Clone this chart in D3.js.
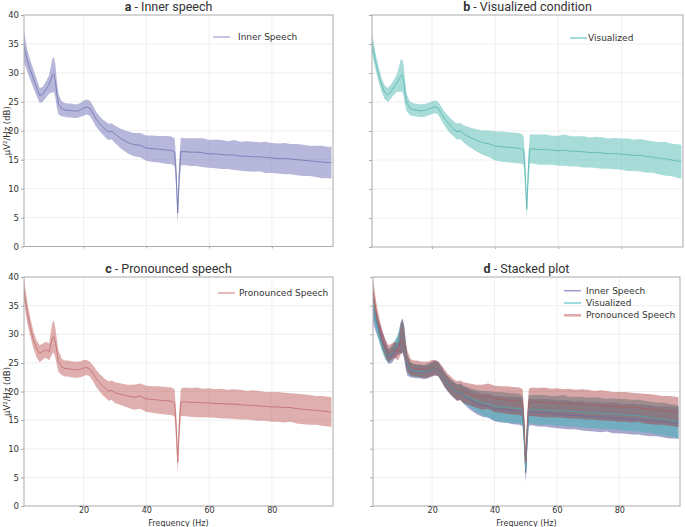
<!DOCTYPE html>
<html>
<head>
<meta charset="utf-8">
<script src="https://cdn.jsdelivr.net/npm/d3@7"></script>
<style>
  body { margin: 0; background: #fff; }
  svg { display: block; }
  text { font-family: "DejaVu Sans", sans-serif; fill: #333; }
  .title { font-family: Roboto, sans-serif; font-size: 12.5px; fill: #333; }
</style>
</head>
<body>
<svg id="chart" width="685" height="527"></svg>
<script>
// frequency bins (Hz)
const freqs = [1, 2, 3, 4, 5, 6, 7, 8, 9, 10, 10.5,
  11, 11.5, 12, 13, 14, 15, 16, 17, 18, 19, 20,
  21, 22, 23, 24, 25, 26, 27, 28, 29, 30,
  32, 34, 36, 38, 40, 42, 44, 46, 48,
  49, 49.5, 50, 50.5, 51,
  52, 54, 56, 58, 60, 62, 64, 66, 68, 70, 72, 74, 76, 78, 80, 82, 84, 86, 88, 90, 92, 94, 96, 98,
  99]

const innerMean = [34.6, 32.2, 30.5, 29.0, 27.5, 26.1, 26.3, 27.1, 28.0, 29.5, 29.8,
  28.6, 26.2, 24.6, 23.8, 23.6, 23.5, 23.5, 23.4, 23.4, 23.6, 23.9,
  24.1, 23.9, 23.0, 22.0, 21.3, 20.7, 20.2, 19.8, 19.9, 19.4,
  18.6, 18.0, 17.6, 17.5, 17.0, 16.9, 16.8, 16.7, 16.6,
  16.3, 12.5, 5.8, 12.5, 16.4,
  16.4, 16.3, 16.3, 16.2, 16.0, 16.0, 15.9, 15.8, 15.8, 15.6, 15.6, 15.5, 15.5, 15.4, 15.3, 15.2, 15.2, 15.1, 15.0, 14.9, 14.8, 14.7, 14.6, 14.5,
  14.5]
const innerSd = [2.7, 1.9, 1.7, 1.6, 1.5, 1.3, 1.3, 1.4, 1.6, 2.9, 3.0,
  2.9, 2.3, 1.8, 1.3, 1.2, 1.2, 1.2, 1.2, 1.2, 1.2, 1.3,
  1.3, 1.3, 1.3, 1.3, 1.3, 1.3, 1.4, 1.4, 1.4, 1.5,
  1.7, 1.9, 2.0, 2.1, 2.2, 2.3, 2.3, 2.4, 2.4,
  2.4, 2.6, 1.8, 2.6, 2.4,
  2.3, 2.4, 2.4, 2.5, 2.4, 2.5, 2.5, 2.4, 2.6, 2.5, 2.6, 2.6, 2.5, 2.7, 2.6, 2.6, 2.7, 2.6, 2.7, 2.7, 2.6, 2.7, 2.8, 2.7,
  2.8]

const visMean = [35.2, 32.3, 30.0, 28.0, 26.7, 26.2, 26.8, 27.6, 28.4, 29.4, 29.7,
  28.8, 26.4, 24.9, 23.9, 23.7, 23.6, 23.5, 23.5, 23.6, 23.8, 24.0,
  24.2, 23.9, 23.0, 22.1, 21.4, 20.8, 20.3, 19.9, 20.0, 19.5,
  18.9, 18.4, 18.0, 17.8, 17.4, 17.3, 17.2, 17.1, 17.0,
  16.7, 13.0, 6.5, 13.0, 16.9,
  16.9, 16.8, 16.8, 16.7, 16.6, 16.7, 16.5, 16.5, 16.4, 16.3, 16.3, 16.2, 16.1, 16.1, 16.0, 15.9, 15.8, 15.8, 15.6, 15.5, 15.3, 15.2, 15.0, 14.8,
  14.7]
const visSd = [1.7, 1.4, 1.3, 1.2, 1.2, 1.2, 1.2, 1.3, 1.6, 2.7, 2.8,
  2.7, 2.1, 1.5, 1.2, 1.1, 1.1, 1.1, 1.1, 1.1, 1.1, 1.1,
  1.1, 1.1, 1.2, 1.2, 1.3, 1.3, 1.3, 1.4, 1.4, 1.5,
  1.7, 1.9, 2.1, 2.3, 2.5, 2.6, 2.6, 2.6, 2.6,
  2.5, 2.6, 1.6, 2.6, 2.5,
  2.5, 2.6, 2.6, 2.5, 2.6, 2.7, 2.6, 2.6, 2.7, 2.6, 2.7, 2.7, 2.6, 2.7, 2.7, 2.8, 2.7, 2.8, 2.8, 2.7, 2.8, 2.9, 2.8, 2.9,
  2.9]

const pronMean = [37.8, 33.9, 31.3, 29.0, 27.5, 26.6, 27.0, 27.3, 26.9, 29.3, 29.6,
  28.6, 26.8, 25.3, 24.3, 24.0, 24.0, 23.9, 23.8, 23.8, 23.9, 24.1,
  24.2, 23.9, 23.2, 22.3, 21.6, 21.0, 20.5, 20.1, 20.2, 19.8,
  19.5, 19.2, 19.0, 19.2, 18.7, 18.6, 18.5, 18.4, 18.3,
  18.0, 14.0, 7.7, 14.0, 18.1,
  18.2, 18.1, 18.1, 18.0, 18.0, 17.9, 17.9, 17.8, 17.8, 17.7, 17.6, 17.6, 17.5, 17.4, 17.3, 17.3, 17.2, 17.2, 17.0, 16.9, 16.8, 16.7, 16.6, 16.5,
  16.4]
const pronSd = [2.0, 1.8, 1.6, 1.5, 1.5, 1.5, 1.4, 1.4, 1.5, 2.7, 2.8,
  2.6, 2.2, 1.9, 1.4, 1.4, 1.4, 1.4, 1.4, 1.4, 1.4, 1.4,
  1.3, 1.3, 1.4, 1.5, 1.5, 1.6, 1.6, 1.7, 1.7, 1.8,
  1.9, 2.0, 2.2, 2.2, 2.3, 2.3, 2.4, 2.4, 2.4,
  2.4, 2.6, 1.9, 2.6, 2.4,
  2.5, 2.5, 2.6, 2.5, 2.55, 2.5, 2.6, 2.5, 2.6, 2.6, 2.5, 2.6, 2.6, 2.5, 2.6, 2.6, 2.6, 2.5, 2.6, 2.6, 2.6, 2.5, 2.6, 2.6,
  2.6]

const yTicks = [0, 5, 10, 15, 20, 25, 30, 35, 40]
const xTicks = [20, 40, 60, 80]

const inner = { name: 'Inner Speech', mean: innerMean, sd: innerSd }
const vis = { name: 'Visualized', mean: visMean, sd: visSd }
const pron = { name: 'Pronounced Speech', mean: pronMean, sd: pronSd }

const panels = [
  { letter: 'a', title: ' - Inner speech', x0: 24, x1: 333, y0: 15, y1: 246.5, yLab: true, xLab: false,
    series: [{ s: inner, fill: '#7070b8', op: 0.5, line: '#7272b0', leg: '#b4b4dc' }],
    legend: { x: 213, y: 37, gap: 8 } },
  { letter: 'b', title: ' - Visualized condition', x0: 372, x1: 683, y0: 15, y1: 247, yLab: false, xLab: false,
    series: [{ s: vis, fill: '#4fbab4', op: 0.5, line: '#55b5ae', leg: '#86d2cf' }],
    legend: { x: 570, y: 38, gap: 1 } },
  { letter: 'c', title: ' - Pronounced speech', x0: 24, x1: 333, y0: 277, y1: 506, yLab: true, xLab: true,
    series: [{ s: pron, fill: '#c06060', op: 0.5, line: '#c26a6a', leg: '#e0a4a4' }],
    legend: { x: 218, y: 293, gap: 4 } },
  { letter: 'd', title: ' - Stacked plot', x0: 373, x1: 680, y0: 277, y1: 506, yLab: false, xLab: true,
    series: [
      { s: inner, fill: '#6c6cae', op: 0.6, line: '#6a6aa6', leg: '#9c9cd0' },
      { s: vis, fill: '#4fb0b8', op: 0.6, line: '#4aa8aa', leg: '#80d0d0' },
      { s: pron, fill: '#a83a3a', op: 0.45, line: '#a86060', leg: '#e0a8a8' }
    ],
    legend: { x: 564, y: 290.7, gap: 5, step: 12.3 } }
]

const svg = d3.select('#chart')

panels.forEach((p, pi) => {
  const x = d3.scaleLinear().domain([1, 99.5]).range([p.x0, p.x1])
  const y = d3.scaleLinear().domain([0, 40]).range([p.y1, p.y0])
  const g = svg.append('g')

  g.append('clipPath').attr('id', 'clip' + pi)
    .append('rect')
    .attr('x', p.x0).attr('y', p.y0)
    .attr('width', p.x1 - p.x0).attr('height', p.y1 - p.y0)

  // grid
  g.append('g').selectAll('line').data(yTicks.slice(1, -1)).join('line')
    .attr('x1', p.x0).attr('x2', p.x1)
    .attr('y1', d => y(d)).attr('y2', d => y(d))
    .attr('stroke', '#ebebeb').attr('stroke-width', 0.8)
  g.append('g').selectAll('line').data(xTicks).join('line')
    .attr('y1', p.y0).attr('y2', p.y1)
    .attr('x1', d => x(d)).attr('x2', d => x(d))
    .attr('stroke', '#ebebeb').attr('stroke-width', 0.8)

  const plot = g.append('g').attr('clip-path', `url(#clip${pi})`)

  p.series.forEach(ser => {
    const area = d3.area()
      .x((d, i) => x(freqs[i]))
      .y0((d, i) => y(ser.s.mean[i] - ser.s.sd[i]))
      .y1((d, i) => y(ser.s.mean[i] + ser.s.sd[i]))
    plot.append('path')
      .attr('d', area(freqs))
      .attr('fill', ser.fill)
      .attr('fill-opacity', ser.op)
  })
  p.series.forEach(ser => {
    const line = d3.line()
      .x((d, i) => x(freqs[i]))
      .y((d, i) => y(ser.s.mean[i]))
    plot.append('path')
      .attr('d', line(freqs))
      .attr('fill', 'none')
      .attr('stroke', ser.line)
      .attr('stroke-width', 0.8)
  })

  // frame
  g.append('rect')
    .attr('x', p.x0).attr('y', p.y0)
    .attr('width', p.x1 - p.x0).attr('height', p.y1 - p.y0)
    .attr('fill', 'none').attr('stroke', '#aaa').attr('stroke-width', 1)

  // axes
  const yAxis = d3.axisLeft(y).tickValues(yTicks).tickSize(3).tickPadding(2)
    .tickFormat(p.yLab ? d3.format('d') : '')
  const ya = g.append('g').attr('transform', `translate(${p.x0},0)`).call(yAxis)
  const xAxis = d3.axisBottom(x).tickValues(xTicks).tickSize(2).tickPadding(0)
    .tickFormat(p.xLab ? d3.format('d') : '')
  const xa = g.append('g').attr('transform', `translate(0,${p.y1})`).call(xAxis)
  ;[ya, xa].forEach(a => {
    a.select('.domain').remove()
    a.selectAll('line').attr('stroke', '#aaa')
    a.selectAll('text').attr('font-size', 8.5).attr('fill', '#333')
      .attr('font-family', '"DejaVu Sans", sans-serif')
  })
  xa.selectAll('text').attr('font-size', 8).attr('dy', '0.6em')

  if (p.yLab) {
    g.append('text')
      .attr('transform', `translate(7,${(p.y0 + p.y1) / 2}) rotate(-90)`)
      .attr('text-anchor', 'middle').attr('dominant-baseline', 'central')
      .attr('font-size', 8.5)
      .text('μV²/Hz (dB)')
  }
  if (p.xLab) {
    g.append('text')
      .attr('x', (p.x0 + p.x1) / 2).attr('y', 525.5)
      .attr('text-anchor', 'middle')
      .attr('font-size', 8)
      .text('Frequency (Hz)')
  }

  // title
  const t = g.append('text').attr('class', 'title')
    .attr('x', (p.x0 + p.x1) / 2 + (pi % 2 ? 0 : -10))
    .attr('y', p.y0 - 9)
    .attr('text-anchor', 'middle').attr('dominant-baseline', 'central')
  t.append('tspan').attr('font-weight', 'bold').text(p.letter)
  t.append('tspan').text(p.title)

  // legend
  const step = p.legend.step || 0
  p.series.forEach((ser, i) => {
    const ly = p.legend.y + i * step
    g.append('line')
      .attr('x1', p.legend.x).attr('x2', p.legend.x + 17)
      .attr('y1', ly).attr('y2', ly)
      .attr('stroke', ser.leg).attr('stroke-width', i === 2 ? 2.5 : 1.5)
    g.append('text')
      .attr('x', p.legend.x + 17 + p.legend.gap).attr('y', ly)
      .attr('dominant-baseline', 'central')
      .attr('font-size', 9)
      .text(ser.s.name)
  })
})
</script>
</body>
</html>
